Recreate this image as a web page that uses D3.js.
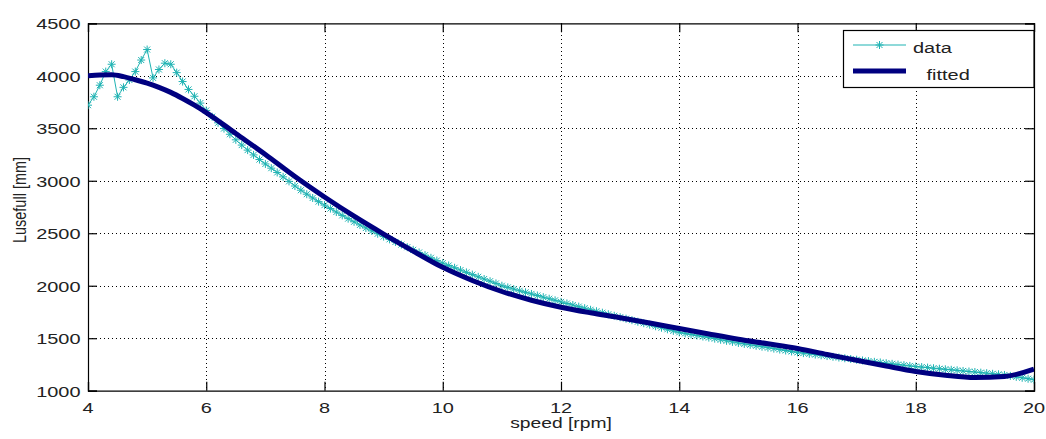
<!DOCTYPE html>
<html>
<head>
<meta charset="utf-8">
<script src="https://cdn.jsdelivr.net/npm/d3@7"></script>
<style>
  html, body { margin: 0; padding: 0; background: #fff; }
  svg { display: block; }
  text { font-family: "Liberation Sans", Arial, Helvetica, sans-serif; fill: #222; }
</style>
</head>
<body>
<svg id="chart" width="1046" height="439"></svg>
<script>
// ---- data ----
const speed = [
  4.0,4.1,4.2,4.3,4.4,4.5,4.6,4.7,4.8,4.9,
  5.0,5.1,5.2,5.3,5.4,5.5,5.6,5.7,5.8,5.9,
  6.0,6.1,6.2,6.3,6.4,6.5,6.6,6.7,6.8,6.9,
  7.0,7.1,7.2,7.3,7.4,7.5,7.6,7.7,7.8,7.9,
  8.0,8.1,8.2,8.3,8.4,8.5,8.6,8.7,8.8,8.9,
  9.0,9.1,9.2,9.3,9.4,9.5,9.6,9.7,9.8,9.9,
  10.0,10.1,10.2,10.3,10.4,10.5,10.6,10.7,10.8,10.9,
  11.0,11.1,11.2,11.3,11.4,11.5,11.6,11.7,11.8,11.9,
  12.0,12.1,12.2,12.3,12.4,12.5,12.6,12.7,12.8,12.9,
  13.0,13.1,13.2,13.3,13.4,13.5,13.6,13.7,13.8,13.9,
  14.0,14.1,14.2,14.3,14.4,14.5,14.6,14.7,14.8,14.9,
  15.0,15.1,15.2,15.3,15.4,15.5,15.6,15.7,15.8,15.9,
  16.0,16.1,16.2,16.3,16.4,16.5,16.6,16.7,16.8,16.9,
  17.0,17.1,17.2,17.3,17.4,17.5,17.6,17.7,17.8,17.9,
  18.0,18.1,18.2,18.3,18.4,18.5,18.6,18.7,18.8,18.9,
  19.0,19.1,19.2,19.3,19.4,19.5,19.6,19.7,19.8,19.9,
  20.0
];
const lusefull = [
  3720,3800,3910,4040,4110,3800,3890,3960,4040,4150,
  4250,3980,4060,4120,4110,4030,3945,3870,3805,3740,
  3670,3610,3552,3497,3443,3390,3340,3292,3246,3202,
  3160,3120,3079,3037,2994,2950,2910,2872,2836,2801,
  2768,2735,2702,2670,2639,2609,2579,2550,2522,2495,
  2468,2442,2417,2392,2367,2342,2317,2291,2266,2240,
  2215,2193,2171,2149,2127,2106,2085,2064,2043,2022,
  2000,1984,1968,1952,1937,1922,1907,1891,1876,1861,
  1846,1831,1816,1801,1786,1771,1757,1743,1728,1714,
  1700,1686,1672,1657,1643,1629,1614,1600,1585,1570,
  1556,1546,1536,1526,1516,1506,1496,1485,1475,1465,
  1455,1446,1437,1428,1419,1410,1401,1392,1383,1374,
  1365,1358,1351,1344,1337,1330,1323,1316,1309,1302,
  1295,1288,1282,1275,1269,1262,1256,1249,1243,1236,
  1230,1225,1220,1214,1209,1204,1199,1194,1188,1183,
  1178,1172,1167,1161,1156,1150,1141,1132,1123,1114,
  1105
];
const fittedSpeed = [4.0,4.2,4.4,4.6,4.8,5.0,5.2,5.4,5.6,5.8,6.0,6.5,7.0,7.5,8.0,8.5,9.0,9.5,10.0,10.5,11.0,11.5,12.0,12.5,13.0,13.5,14.0,14.5,15.0,15.5,16.0,16.5,17.0,17.5,18.0,18.5,19.0,19.5,20.0];
const fittedValues = [4000,4008,4010,3992,3962,3930,3890,3842,3784,3720,3650,3450,3250,3040,2845,2662,2492,2330,2175,2050,1945,1862,1795,1742,1695,1645,1592,1540,1490,1447,1402,1345,1290,1235,1183,1147,1125,1135,1205];
const xTicks = [4,6,8,10,12,14,16,18,20];
const yTicks = [1000,1500,2000,2500,3000,3500,4000,4500];
const seriesNames = ["data", " fitted"];
const xLabel = "speed [rpm]";
const yLabel = "Lusefull [mm]";

// ---- layout ----
const L = 88, R = 1034, T = 23.3, B = 390.7;
const SX = 1.33; // horizontal text stretch seen in the reference
const dataColor = "#1fb3b3", fitColor = "#000080";

const svg = d3.select("#chart");
const x = d3.scaleLinear().domain([4, 20]).range([L, R]);
const y = d3.scaleLinear().domain([1000, 4500]).range([B, T]);

svg.append("defs").append("clipPath").attr("id", "clip")
  .append("rect").attr("x", L).attr("y", T).attr("width", R - L).attr("height", B - T);

// grid
const grid = svg.append("g").attr("stroke", "#000").attr("stroke-width", 1).attr("stroke-dasharray", "1,3").attr("shape-rendering", "crispEdges");
grid.selectAll(".gx").data(xTicks.slice(1, -1)).join("line")
  .attr("x1", d => Math.round(x(d)) + 0.5).attr("x2", d => Math.round(x(d)) + 0.5)
  .attr("y1", T).attr("y2", B);
grid.selectAll(".gy").data(yTicks.slice(1, -1)).join("line")
  .attr("y1", d => Math.round(y(d)) + 0.5).attr("y2", d => Math.round(y(d)) + 0.5)
  .attr("x1", L).attr("x2", R);

// axes (ticks inward on all four sides)
const tickLen = 9;
const axB = svg.append("g").attr("transform", `translate(0,${B})`)
  .call(d3.axisBottom(x).tickValues(xTicks).tickSize(-tickLen).tickFormat(""));
const axT = svg.append("g").attr("transform", `translate(0,${T})`)
  .call(d3.axisTop(x).tickValues(xTicks).tickSize(-tickLen).tickFormat(""));
const axL = svg.append("g").attr("transform", `translate(${L},0)`)
  .call(d3.axisLeft(y).tickValues(yTicks).tickSize(-tickLen).tickFormat(""));
const axRt = svg.append("g").attr("transform", `translate(${R},0)`)
  .call(d3.axisRight(y).tickValues(yTicks).tickSize(-tickLen).tickFormat(""));
[axB, axT, axL, axRt].forEach(a => {
  a.selectAll("path").attr("stroke", "#000").attr("stroke-width", 1.2);
  a.selectAll("line").attr("stroke", "#000").attr("stroke-width", 1.2);
});

// tick labels
svg.append("g").selectAll("text").data(xTicks).join("text")
  .attr("transform", d => `translate(${x(d)},413) scale(${SX},1)`)
  .attr("text-anchor", "middle").attr("font-size", 15).text(d => d);
svg.append("g").selectAll("text").data(yTicks).join("text")
  .attr("transform", d => `translate(80.5,${y(d) + 6}) scale(${SX},1)`)
  .attr("text-anchor", "end").attr("font-size", 15).text(d => d);

// axis labels
svg.append("text").attr("transform", `translate(${(L + R) / 2},428) scale(${SX},1)`)
  .attr("text-anchor", "middle").attr("font-size", 14.5).text(xLabel);
svg.append("text").attr("transform", `translate(26,200) scale(${SX},1) rotate(-90)`)
  .attr("text-anchor", "middle").attr("font-size", 14.5).text(yLabel);

// series
const plot = svg.append("g").attr("clip-path", "url(#clip)");
const pts = speed.map((s, i) => [s, lusefull[i]]);
plot.append("path").datum(pts)
  .attr("fill", "none").attr("stroke", dataColor).attr("stroke-width", 1)
  .attr("d", d3.line().x(d => x(d[0])).y(d => y(d[1])));
const star = "M-4,0H4M0,-4V4M-3,-3L3,3M-3,3L3,-3";
plot.append("g").selectAll("path").data(pts).join("path")
  .attr("transform", d => `translate(${x(d[0])},${y(d[1])})`)
  .attr("d", star).attr("fill", "none").attr("stroke", dataColor).attr("stroke-width", 1);

const fpts = fittedSpeed.map((s, i) => [s, fittedValues[i]]);
plot.append("path").datum(fpts)
  .attr("fill", "none").attr("stroke", fitColor).attr("stroke-width", 5)
  .attr("stroke-linejoin", "round")
  .attr("d", d3.line().curve(d3.curveMonotoneX).x(d => x(d[0])).y(d => y(d[1])));

// legend
const lg = svg.append("g");
lg.append("rect").attr("x", 843.5).attr("y", 30.5).attr("width", R - 843.5).attr("height", 57)
  .attr("fill", "#fff").attr("stroke", "#000").attr("stroke-width", 1.2);
lg.append("line").attr("x1", 853).attr("x2", 906).attr("y1", 45).attr("y2", 45)
  .attr("stroke", dataColor).attr("stroke-width", 1);
lg.append("path").attr("transform", "translate(879.5,45)").attr("d", star)
  .attr("fill", "none").attr("stroke", dataColor).attr("stroke-width", 1);
lg.append("line").attr("x1", 853).attr("x2", 906).attr("y1", 71).attr("y2", 71)
  .attr("stroke", fitColor).attr("stroke-width", 5);
lg.append("text").attr("transform", `translate(913,53) scale(${SX},1)`).attr("font-size", 15)
  .attr("xml:space", "preserve").text(seriesNames[0]);
lg.append("text").attr("transform", `translate(921,80) scale(${SX},1)`).attr("font-size", 15)
  .attr("xml:space", "preserve").style("white-space", "pre").text(seriesNames[1]);
</script>
</body>
</html>
